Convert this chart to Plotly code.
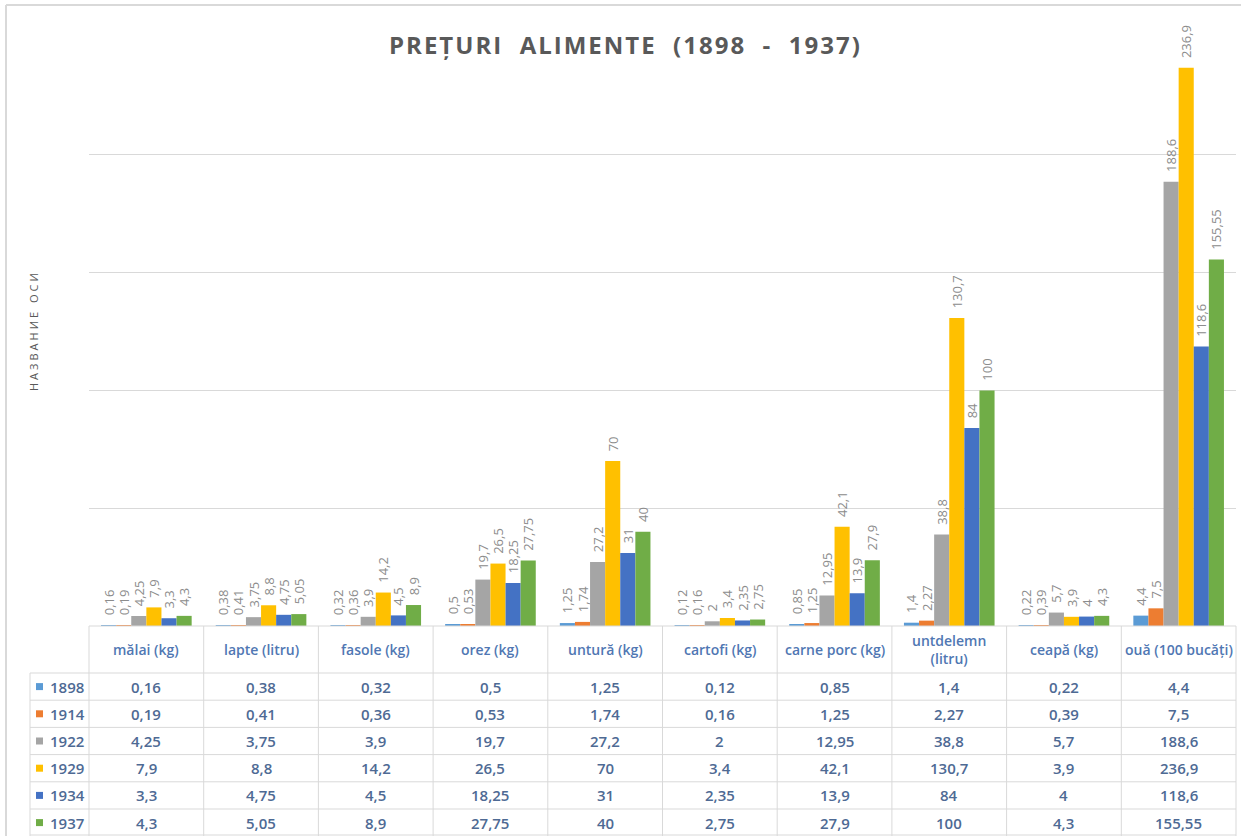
import plotly.graph_objects as go

# Food items (one bar cluster and one table column each)
categories = [
    "mălai (kg)", "lapte (litru)", "fasole (kg)", "orez (kg)", "untură (kg)",
    "cartofi (kg)", "carne porc (kg)", "untdelemn<br>(litru)", "ceapă (kg)",
    "ouă (100 bucăți)",
]

years = ["1898", "1914", "1922", "1929", "1934", "1937"]

prices_1898 = [0.16, 0.38, 0.32, 0.5, 1.25, 0.12, 0.85, 1.4, 0.22, 4.4]
prices_1914 = [0.19, 0.41, 0.36, 0.53, 1.74, 0.16, 1.25, 2.27, 0.39, 7.5]
prices_1922 = [4.25, 3.75, 3.9, 19.7, 27.2, 2, 12.95, 38.8, 5.7, 188.6]
prices_1929 = [7.9, 8.8, 14.2, 26.5, 70, 3.4, 42.1, 130.7, 3.9, 236.9]
prices_1934 = [3.3, 4.75, 4.5, 18.25, 31, 2.35, 13.9, 84, 4, 118.6]
prices_1937 = [4.3, 5.05, 8.9, 27.75, 40, 2.75, 27.9, 100, 4.3, 155.55]

series = [prices_1898, prices_1914, prices_1922, prices_1929, prices_1934, prices_1937]
colors = ["#5B9BD5", "#ED7D31", "#A5A5A5", "#FFC000", "#4472C4", "#70AD47"]

W, H = 1241, 836
FONT = "Open Sans"
GRID = "#d9d9d9"
CELL_TEXT = "#4e6a94"
HEAD_TEXT = "#5077b3"


def fmt(v):
    return f"{v:g}".replace(".", ",")


# Geometry in pixels
plot_left, plot_right = 89, 1236
plot_top, plot_bottom = 37, 626
table_left = 30
head_bottom = 673
row_h = 27.2
col_w = (plot_right - plot_left) / len(categories)


def px_x(x):
    return x / W


def px_y(y):
    return 1 - y / H


fig = go.Figure()

for year, vals, col in zip(years, series, colors):
    fig.add_trace(go.Bar(
        name=year,
        x=categories,
        y=vals,
        marker=dict(color=col, line=dict(width=0)),
        text=["\u00a0\u00a0" + fmt(v) for v in vals],
        textposition="outside",
        textangle=-90,
        constraintext="none",
        cliponaxis=False,
        textfont=dict(family=FONT, size=13, color="#8c8c8c"),
        hoverinfo="skip",
    ))

shapes = []
annotations = []


def hline(y, x0, x1):
    shapes.append(dict(type="line", xref="paper", yref="paper",
                       x0=px_x(x0), x1=px_x(x1), y0=px_y(y), y1=px_y(y),
                       line=dict(color=GRID, width=1)))


def vline(x, y0, y1):
    shapes.append(dict(type="line", xref="paper", yref="paper",
                       x0=px_x(x), x1=px_x(x), y0=px_y(y0), y1=px_y(y1),
                       line=dict(color=GRID, width=1)))


# Data table grid
hline(plot_bottom, plot_left, plot_right)
for k in range(len(years) + 1):
    hline(min(head_bottom + k * row_h, 835), table_left, plot_right)
vline(table_left, head_bottom, 836)
for i in range(len(categories) + 1):
    vline(plot_left + i * col_w, plot_bottom, 836)

# Header row (category names)
for cat in categories:
    annotations.append(dict(
        text=cat, x=cat, xref="x", y=px_y((plot_bottom + head_bottom) / 2), yref="paper",
        xanchor="center", yanchor="middle", showarrow=False,
        font=dict(family=FONT, size=14, color=HEAD_TEXT, weight=600),
    ))

# Series rows: legend key + values
for r, (year, vals, col) in enumerate(zip(years, series, colors)):
    yc = head_bottom + row_h * (r + 0.5)
    shapes.append(dict(type="rect", xref="paper", yref="paper",
                       x0=px_x(36), x1=px_x(43), y0=px_y(yc + 3.5), y1=px_y(yc - 3.5),
                       fillcolor=col, line=dict(width=0)))
    annotations.append(dict(
        text=year, x=px_x(67), xref="paper", y=px_y(yc), yref="paper",
        xanchor="center", yanchor="middle", showarrow=False,
        font=dict(family=FONT, size=15, color=CELL_TEXT, weight=600),
    ))
    for cat, v in zip(categories, vals):
        annotations.append(dict(
            text=fmt(v), x=cat, xref="x", y=px_y(yc), yref="paper",
            xanchor="center", yanchor="middle", showarrow=False,
            font=dict(family=FONT, size=15, color=CELL_TEXT, weight=600),
        ))

# Chart frame (left and top edges)
shapes.append(dict(type="line", xref="paper", yref="paper",
                   x0=px_x(6), x1=px_x(6), y0=0, y1=px_y(5),
                   line=dict(color=GRID, width=2)))
shapes.append(dict(type="line", xref="paper", yref="paper",
                   x0=px_x(6), x1=1, y0=px_y(5), y1=px_y(5),
                   line=dict(color=GRID, width=2)))

# Title and value-axis title
annotations.append(dict(
    text="<span style='letter-spacing:2px'>PREȚURI  ALIMENTE  (1898  -  1937)</span>",
    x=px_x(625), y=px_y(45), xref="paper", yref="paper",
    xanchor="center", yanchor="middle", showarrow=False,
    bgcolor="white", borderpad=2,
    font=dict(family=FONT, size=24, color="#595959", weight="bold"),
))
annotations.append(dict(
    text="<span style='letter-spacing:3px'>НАЗВАНИЕ ОСИ</span>",
    x=px_x(34), y=px_y(331), xref="paper", yref="paper",
    xanchor="center", yanchor="middle", showarrow=False,
    textangle=-90,
    font=dict(family=FONT, size=11, color="#595959"),
))

fig.update_layout(
    width=W,
    height=H,
    margin=dict(l=0, r=0, t=0, b=0, autoexpand=False),
    paper_bgcolor="white",
    plot_bgcolor="white",
    barmode="group",
    bargap=0.21,
    bargroupgap=0,
    showlegend=False,
    xaxis=dict(
        domain=[px_x(plot_left), px_x(plot_right)],
        range=[-0.5, len(categories) - 0.5],
        showticklabels=False,
        showgrid=False,
        zeroline=False,
        showline=False,
        ticks="",
    ),
    yaxis=dict(
        domain=[px_y(plot_bottom), px_y(plot_top)],
        range=[0, 250],
        dtick=50,
        showticklabels=False,
        showgrid=True,
        gridcolor=GRID,
        gridwidth=1,
        zeroline=False,
        showline=False,
        ticks="",
    ),
    shapes=shapes,
    annotations=annotations,
)

fig.write_html("out.html")
